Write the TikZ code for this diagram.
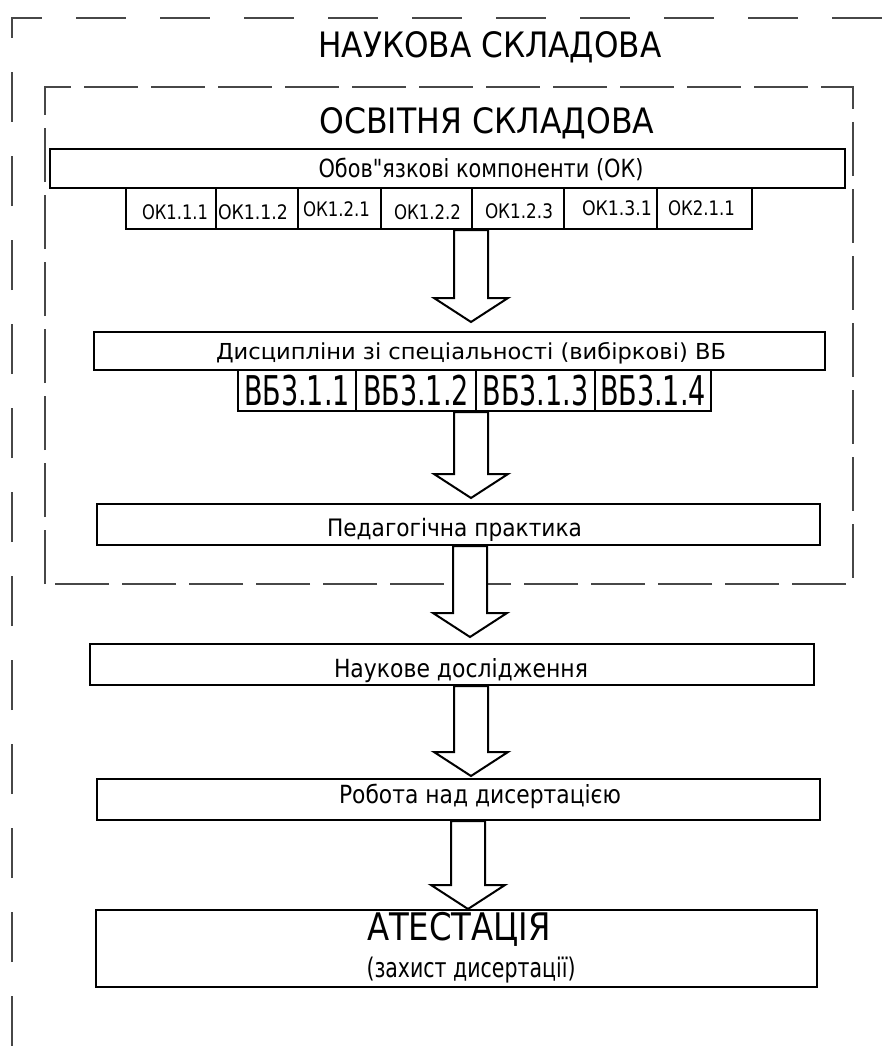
\documentclass[tikz,border=0pt]{standalone}
\usepackage{fontspec}
\setmainfont{DejaVu Sans}
\newfontfamily\qfont{DejaVu Sans}
\usepackage{graphicx}
\usetikzlibrary{calc}
\newcommand\fitt[3]{\resizebox{#1pt}{\height}{\fontsize{#2pt}{#2pt}\selectfont #3}}
\newcommand\barrow[4]{%
  \draw[blockarrow] let \p1=(#1.south), \p2=(#2.north) in
    ({#3pt-17pt},{\y1}) -- ({#3pt-17pt},{\y2+#4pt+24pt}) -- ({#3pt-37pt},{\y2+#4pt+24pt})
    -- ({#3pt},{\y2+#4pt}) -- ({#3pt+37pt},{\y2+#4pt+24pt}) -- ({#3pt+17pt},{\y2+#4pt+24pt})
    -- ({#3pt+17pt},{\y1}) -- cycle;}
\begin{document}
\begin{tikzpicture}[x=1pt,y=-1pt,
  box/.style={draw=black,line width=2pt,inner sep=0pt,fill=none},
  lbl/.style={inner sep=0pt,anchor=base},
  dashouter/.style={draw=black!72,line width=2pt,dash pattern=on 50pt off 34pt},
  dashinner/.style={draw=black!72,line width=1.8pt,dash pattern=on 54pt off 13pt},
  blockarrow/.style={draw=black,line width=2pt,fill=white,line join=miter}]
\useasboundingbox[fill=white] (0,0) rectangle (886,1046);

% dashed frames
\draw[dashouter] (12,1046) -- (12,18) -- (886,18);
\draw[dashinner] (45,584) -- (45,87) -- (853,87) -- (853,584) -- cycle;

% titles
\node[lbl] (tnauk) at (490,58) {\fitt{343}{35}{НАУКОВА СКЛАДОВА}};
\node[lbl] (tosv) at (487,133) {\fitt{335}{35}{ОСВІТНЯ СКЛАДОВА}};

% obligatory components
\node[box,minimum width=795,minimum height=39] (ok) at (447.5,168.5) {};
\node[lbl] (tok) at (481,177) {\fitt{325}{25}{Обов{\qfont"}язкові компоненти (ОК)}};

\node[box,minimum width=90,minimum height=41] (ok1) at (171,208.5) {};
\node[box,minimum width=82,minimum height=41] (ok2) at (257,208.5) {};
\node[box,minimum width=83,minimum height=41] (ok3) at (339.5,208.5) {};
\node[box,minimum width=91,minimum height=41] (ok4) at (426.5,208.5) {};
\node[box,minimum width=92,minimum height=41] (ok5) at (518,208.5) {};
\node[box,minimum width=93,minimum height=41] (ok6) at (610.5,208.5) {};
\node[box,minimum width=95,minimum height=41] (ok7) at (704.5,208.5) {};
\node[lbl] at (175,219) {\fitt{66}{20}{ОК1.1.1}};
\node[lbl] at (253,219) {\fitt{70}{20}{ОК1.1.2}};
\node[lbl] at (336.5,216) {\fitt{67}{20}{ОК1.2.1}};
\node[lbl] at (427.5,219) {\fitt{67}{20}{ОК1.2.2}};
\node[lbl] at (519,218) {\fitt{68}{20}{ОК1.2.3}};
\node[lbl] at (617,215) {\fitt{70}{20}{ОК1.3.1}};
\node[lbl] at (701.5,215) {\fitt{67}{20}{ОК2.1.1}};

% elective
\node[box,minimum width=731,minimum height=38] (vb) at (459.5,351) {};
\node[lbl] (tvb) at (471,359) {\fitt{510}{22}{Дисципліни зі спеціальності (вибіркові) ВБ}};
\node[box,minimum width=118,minimum height=41] (vb1) at (297,390.5) {};
\node[box,minimum width=120,minimum height=41] (vb2) at (416,390.5) {};
\node[box,minimum width=119,minimum height=41] (vb3) at (535.5,390.5) {};
\node[box,minimum width=116,minimum height=41] (vb4) at (653,390.5) {};
\node[lbl] at (297,405) {\fitt{106}{41}{ВБ3.1.1}};
\node[lbl] at (416,405) {\fitt{106}{41}{ВБ3.1.2}};
\node[lbl] at (535.5,405) {\fitt{106}{41}{ВБ3.1.3}};
\node[lbl] at (653,405) {\fitt{106}{41}{ВБ3.1.4}};

% practice
\node[box,minimum width=723,minimum height=41] (ped) at (458.5,524.5) {};
\node[lbl] (tped) at (454.5,536) {\fitt{255}{24}{Педагогічна практика}};

% research
\node[box,minimum width=724,minimum height=41] (nauk) at (452,664.5) {};
\node[lbl] (tnd) at (461,677) {\fitt{254}{25}{Наукове дослідження}};

% dissertation work
\node[box,minimum width=723,minimum height=41] (rob) at (458.5,799.5) {};
\node[lbl] (trob) at (480,803) {\fitt{282}{25}{Робота над дисертацією}};

% attestation
\node[box,minimum width=721,minimum height=77] (at) at (456.5,948.5) {};
\node[lbl] (tat) at (459,940) {\fitt{184}{38}{АТЕСТАЦІЯ}};
\node[lbl] (tzah) at (471,977) {\fitt{209}{27}{(захист дисертації)}};

% block arrows
\barrow{ok4}{vb}{471}{9}
\barrow{vb2}{ped}{471}{5}
\barrow{ped}{nauk}{470}{6}
\barrow{nauk}{rob}{471}{2}
\barrow{rob}{at}{468}{0}
\end{tikzpicture}
\end{document}
